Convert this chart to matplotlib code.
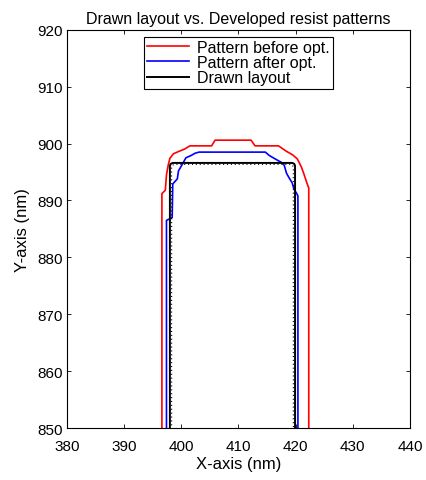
import numpy as np
import matplotlib
matplotlib.use("Agg")
import matplotlib.pyplot as plt

plt.rcParams['font.family'] = ['Liberation Sans', 'DejaVu Sans']

# resist contour before optimisation (red)
before_x = [396.6, 396.6, 397.2, 397.4, 397.7, 398.0, 398.6, 399.5, 400.5, 401.5,
            405.3, 405.9, 412.2, 412.9, 417.0, 418.3, 419.5, 420.3, 421.0, 421.4,
            422.0, 422.3, 422.3]
before_y = [845.0, 891.2, 891.8, 894.5, 896.2, 897.4, 898.2, 898.6, 899.0, 899.6,
            899.6, 900.6, 900.6, 899.6, 899.6, 898.7, 898.0, 897.3, 895.9, 894.8,
            893.0, 892.2, 845.0]

# resist contour after optimisation (blue)
after_x = [397.4, 397.4, 398.4, 398.5, 399.3, 399.5, 400.2, 400.8, 401.7, 402.4,
           403.1, 414.7, 415.4, 416.6, 417.5, 418.0, 418.4, 418.9, 419.4, 419.7,
           420.2, 420.4, 420.4]
after_y = [845.0, 886.5, 887.0, 892.9, 893.8, 895.2, 896.4, 897.5, 897.9, 898.3,
           898.5, 898.5, 897.9, 897.2, 896.7, 896.2, 894.8, 893.9, 893.1, 892.0,
           891.2, 890.8, 845.0]

# drawn layout (black)
layout_x = [398.0, 398.0, 398.15, 398.5, 419.4, 419.75, 419.9, 419.9]
layout_y = [845.0, 896.1, 896.45, 896.6, 896.6, 896.45, 896.1, 845.0]

x_ticks = [380, 390, 400, 410, 420, 430, 440]
y_ticks = [850, 860, 870, 880, 890, 900, 910, 920]

fig = plt.figure(figsize=(4.27, 4.81), dpi=100)
ax = fig.add_axes([0.157, 0.108, 0.803, 0.828])

ax.plot(before_x, before_y, color='#ff0000', lw=1.2, label='Pattern before opt.')
ax.plot(after_x, after_y, color='#0000ff', lw=1.2, label='Pattern after opt.')
ax.plot(layout_x, layout_y, color='black', lw=1.4, label='Drawn layout')
# dotted inner edge of the layout line
inner_x = np.array(layout_x) + np.array([0.3, 0.3, 0.3, 0.3, -0.3, -0.3, -0.3, -0.3])
inner_y = np.array(layout_y) - np.array([0, 0.25, 0.25, 0.25, 0.25, 0.25, 0.25, 0])
ax.plot(inner_x, inner_y, color='black', lw=0.8, dashes=(1, 2.5))

ax.set_xlim(380, 440)
ax.set_ylim(850, 920)
ax.set_xticks(x_ticks)
ax.set_yticks(y_ticks)
ax.tick_params(direction='in', length=3, width=0.6, top=True, right=True,
               labelsize=11, colors='black')
ax.tick_params(axis='x', pad=8)
ax.tick_params(axis='y', pad=3)
for s in ax.spines.values():
    s.set_linewidth(0.8)

ax.set_title('Drawn layout vs. Developed resist patterns', fontsize=11.5, pad=5)
ax.set_xlabel('X-axis (nm)', fontsize=12, labelpad=2)
ax.set_ylabel('Y-axis (nm)', fontsize=12, labelpad=5)

leg = ax.legend(loc='upper center', bbox_to_anchor=(0.5, 0.983), fontsize=11.5,
                fancybox=False, framealpha=1, edgecolor='black',
                handlelength=2.6, handletextpad=0.5, borderpad=0.2,
                labelspacing=0.02, borderaxespad=0)
leg.get_frame().set_linewidth(0.8)

fig.savefig('out.png', dpi=100)
